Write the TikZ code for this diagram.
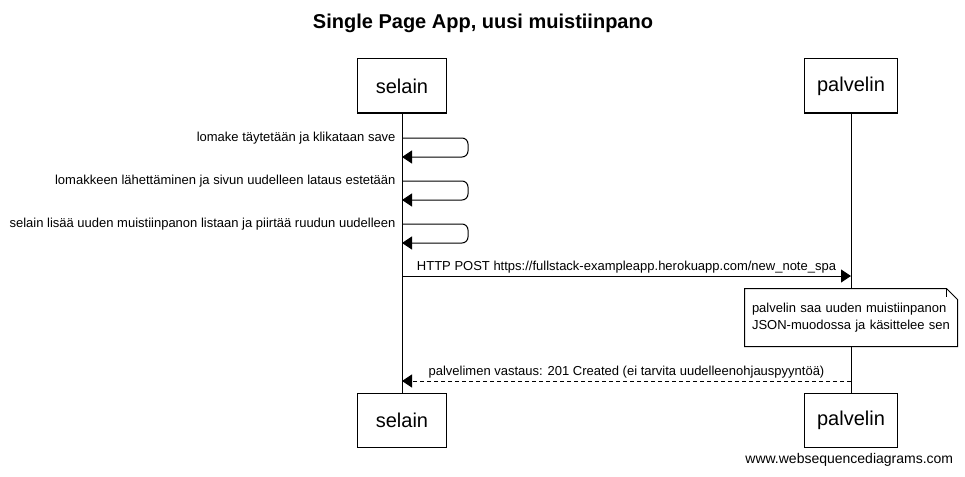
\documentclass[tikz,border=0pt]{standalone}
\usepackage{fontspec}
\setmainfont{Liberation Sans}
\usetikzlibrary{positioning, arrows.meta}

\begin{document}
\begin{tikzpicture}[x=1pt, y=-1pt, line width=1pt,
  actor/.style={draw, minimum width=89pt, minimum height=54pt, inner sep=0pt, font=\fontsize{20}{24}\selectfont},
  msg/.style={font=\fontsize{13}{15}\selectfont, inner sep=2pt},
  arr/.style={-{Triangle[length=10pt, width=13pt]}},
  notebox/.style={fill=white, minimum width=212pt, minimum height=57pt, text width=198pt, inner sep=7pt, align=left, font=\fontsize{13}{17}\selectfont}]
\useasboundingbox (0,0) rectangle (965,476);
\node[font=\bfseries\fontsize{20}{24}\selectfont] (title) at (483,23) {Single Page App, uusi muistiinpano};
\node[actor] (selTop) at (402,86) {selain};
\node[actor, minimum width=93pt] (palTop) at (851,86) {palvelin};
\node[actor, fill=white] (selBot) at (402,420.5) {selain};
\node[actor, minimum width=93pt, fill=white] (palBot) at (851,420.5) {palvelin};
\draw (selTop) -- (selBot);
\draw (palTop) -- (palBot);
% selaimen omat viestit
\foreach \i/\y/\txt in {1/138/lomake täytetään ja klikataan save,
                        2/181/lomakkeen lähettäminen ja sivun uudelleen lataus estetään,
                        3/224/selain lisää uuden muistiinpanon listaan ja piirtää ruudun uudelleen} {
  \coordinate (self\i) at (selTop |- 0,\y);
  \coordinate (back\i) at (selTop |- 0,\y+19);
  \draw[arr, rounded corners=6pt] (self\i) -- ++(66,0) -- ++(0,19) -- (back\i);
  \node[msg, anchor=east] (lbl\i) at ([xshift=-4pt]self\i) {\txt};
}
% HTTP POST
\coordinate (postA) at (selTop |- 0,276);
\coordinate (postB) at (palTop |- 0,276);
\draw[arr] (postA) -- (postB) node[msg, midway, above] (postLbl) {HTTP POST https://fullstack-exampleapp.herokuapp.com/new\_note\_spa};
% muistiinpano
\node[notebox] (note) at (851,317.5) {palvelin saa uuden muistiinpanon\\JSON-muodossa ja käsittelee sen};
\draw (note.north west) -- ([xshift=-11pt]note.north east) -- ([yshift=-11pt]note.north east) -- (note.south east) -- (note.south west) -- cycle;
\draw ([xshift=-11pt]note.north east) -- ([xshift=-11pt, yshift=-8pt]note.north east);
% vastaus
\coordinate (respA) at (palTop |- 0,381);
\coordinate (respB) at (selTop |- 0,381);
\draw[arr, dash pattern=on 4pt off 3pt] (respA) -- (respB) node[msg, midway, above] (respLbl) {palvelimen vastaus: 201 Created (ei tarvita uudelleenohjauspyyntöä)};
\node[font=\fontsize{14}{16}\selectfont, anchor=east] (wsd) at (957,460) {www.websequencediagrams.com};
\end{tikzpicture}
\end{document}
